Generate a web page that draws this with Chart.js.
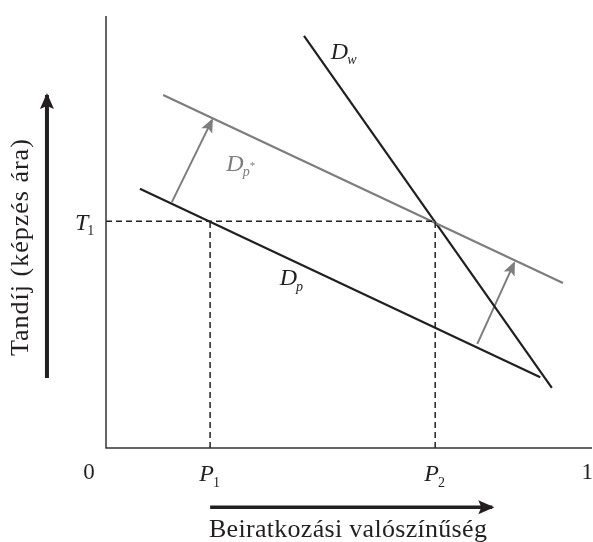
<!DOCTYPE html>
<html>
<head>
<meta charset="utf-8">
<script src="https://cdn.jsdelivr.net/npm/chart.js@4"></script>
<style>
  html, body { margin: 0; padding: 0; background: #fff; }
  #wrap { width: 593px; height: 542px; }
</style>
</head>
<body>
<div id="wrap"><canvas id="chart"></canvas></div>
<script>
// x: beiratkozási valószínűség (0..1), y: tandíj (0..1)
const P1 = 0.215;
const P2 = 0.680;
const T1 = 0.525;

const curveDw = [{ x: 0.409, y: 0.954 }, { x: 0.921, y: 0.139 }];
const curveDpStar = [{ x: 0.118, y: 0.817 }, { x: 0.944, y: 0.382 }];
const curveDp = [{ x: 0.070, y: 0.600 }, { x: 0.897, y: 0.164 }];

const shiftLeft = [{ x: 0.136, y: 0.569 }, { x: 0.219, y: 0.759 }];
const shiftRight = [{ x: 0.767, y: 0.241 }, { x: 0.843, y: 0.428 }];

const yAxisLine = [{ x: 0, y: 1.0 }, { x: 0, y: 0 }, { x: 1.004, y: 0 }];
const priceArrow = [{ x: -0.122, y: 0.162 }, { x: -0.122, y: 0.817 }];
const probArrow = [{ x: 0.215, y: -0.137 }, { x: 0.798, y: -0.137 }];

const tickNames = ["0", "P1", "P2", "1"];
const tickValues = [-0.035, P1, P2, 0.994];

const curveNames = ["Dw", "Dp*", "Dp"];
const curveLabelX = [0.492, 0.281, 0.384];
const curveLabelY = [0.921, 0.660, 0.396];

const yTitle = "Tandíj (képzés ára)";
const xTitle = "Beiratkozási valószínűség";

const BLACK = "#231f20";
const GRAY = "#7d7d7d";
const SERIF = "'Liberation Serif', 'DejaVu Serif', serif";

function line(data, color, width, extra) {
  return Object.assign({
    data: data, showLine: true, borderColor: color, borderWidth: width,
    pointRadius: 0, fill: false, tension: 0
  }, extra || {});
}

// draws the arrow heads at the end of datasets marked arrow:true
const arrowHeads = {
  id: "arrowHeads",
  afterDatasetsDraw(chart) {
    const ctx = chart.ctx;
    chart.data.datasets.forEach((ds, i) => {
      if (!ds.arrow) return;
      const pts = chart.getDatasetMeta(i).data;
      const a = pts[pts.length - 2], b = pts[pts.length - 1];
      const ang = Math.atan2(b.y - a.y, b.x - a.x);
      const len = ds.arrow.len, half = ds.arrow.half;
      ctx.save();
      ctx.fillStyle = ds.borderColor;
      ctx.translate(b.x, b.y);
      ctx.rotate(ang);
      ctx.beginPath();
      ctx.moveTo(2, 0);
      ctx.lineTo(-len, -half);
      ctx.lineTo(-len + 3, 0);
      ctx.lineTo(-len, half);
      ctx.closePath();
      ctx.fill();
      ctx.restore();
    });
  }
};

// symbol with italic base and small subscript, e.g. P1, Dp*
function drawSymbol(ctx, name, cx, cy, size, color) {
  const base = name[0];
  const sub = name.slice(1);
  ctx.save();
  ctx.fillStyle = color;
  ctx.textBaseline = "alphabetic";
  const bigFont = "italic " + size + "px " + SERIF;
  const subIsNum = /^[0-9]$/.test(sub);
  const smallFont = (subIsNum ? "" : "italic ") + Math.round(size * 0.6) + "px " + SERIF;
  ctx.font = bigFont;
  const wb = ctx.measureText(base).width;
  ctx.font = smallFont;
  const ws = sub ? ctx.measureText(sub).width : 0;
  let x = cx - (wb + ws) / 2;
  const y = cy + size * 0.35;
  ctx.font = bigFont;
  ctx.textAlign = "left";
  ctx.fillText(base, x, y);
  if (sub) {
    ctx.font = smallFont;
    if (sub.endsWith("*")) {
      ctx.fillText(sub.slice(0, -1), x + wb - 1, y + size * 0.2);
      const w1 = ctx.measureText(sub.slice(0, -1)).width;
      ctx.font = Math.round(size * 0.45) + "px " + SERIF;
      ctx.fillText("*", x + wb - 1 + w1, y - size * 0.1);
    } else {
      ctx.fillText(sub, x + wb - 1, y + size * 0.22);
    }
  }
  ctx.restore();
}

const labels = {
  id: "labels",
  afterDraw(chart) {
    const ctx = chart.ctx;
    const xs = chart.scales.x, ys = chart.scales.y;
    const tickY = ys.getPixelForValue(-0.058);
    tickNames.forEach((t, i) => {
      const px = xs.getPixelForValue(tickValues[i]);
      if (t.length === 1) {
        ctx.save();
        ctx.fillStyle = BLACK;
        ctx.font = "23px " + SERIF;
        ctx.textAlign = "center";
        ctx.textBaseline = "middle";
        ctx.fillText(t, px, tickY);
        ctx.restore();
      } else {
        drawSymbol(ctx, t, px, tickY, 24, BLACK);
      }
    });
    drawSymbol(ctx, "T1", xs.getPixelForValue(-0.043), ys.getPixelForValue(T1), 24, BLACK);
    curveNames.forEach((n, i) => {
      drawSymbol(ctx, n, xs.getPixelForValue(curveLabelX[i]), ys.getPixelForValue(curveLabelY[i]),
        24, n === "Dp*" ? GRAY : BLACK);
    });
    ctx.save();
    ctx.fillStyle = BLACK;
    ctx.font = "26px " + SERIF;
    ctx.textAlign = "center";
    ctx.textBaseline = "middle";
    ctx.letterSpacing = "0.3px";
    ctx.fillText(xTitle, xs.getPixelForValue(0.5), ys.getPixelForValue(-0.19));
    ctx.letterSpacing = "1px";
    ctx.translate(xs.getPixelForValue(-0.176), ys.getPixelForValue(0.465));
    ctx.rotate(-Math.PI / 2);
    ctx.fillText(yTitle, 0, 0);
    ctx.restore();
  }
};

new Chart(document.getElementById("chart"), {
  type: "scatter",
  data: {
    datasets: [
      line(yAxisLine, "#333333", 1.5),
      line([{ x: 0, y: T1 }, { x: P2, y: T1 }], BLACK, 1.5, { borderDash: [6, 4] }),
      line([{ x: P1, y: 0 }, { x: P1, y: T1 }], BLACK, 1.5, { borderDash: [6, 4] }),
      line([{ x: P2, y: 0 }, { x: P2, y: T1 }], BLACK, 1.5, { borderDash: [6, 4] }),
      line(curveDpStar, GRAY, 2.2),
      line(curveDp, BLACK, 2.2),
      line(curveDw, BLACK, 2.2),
      line(shiftLeft, GRAY, 2, { arrow: { len: 12, half: 6 } }),
      line(shiftRight, GRAY, 2, { arrow: { len: 12, half: 6 } }),
      line(priceArrow, BLACK, 4, { arrow: { len: 14, half: 7 } }),
      line(probArrow, BLACK, 3.5, { arrow: { len: 14, half: 7 } })
    ]
  },
  options: {
    responsive: true,
    maintainAspectRatio: false,
    animation: false,
    layout: { padding: 0 },
    plugins: { legend: { display: false }, tooltip: { enabled: false } },
    scales: {
      x: { type: "linear", min: -0.219, max: 1.006, display: false },
      y: { type: "linear", min: -0.2176, max: 1.037, display: false }
    },
    elements: { line: { borderCapStyle: "butt" } }
  },
  plugins: [arrowHeads, labels]
});
</script>
</body>
</html>
